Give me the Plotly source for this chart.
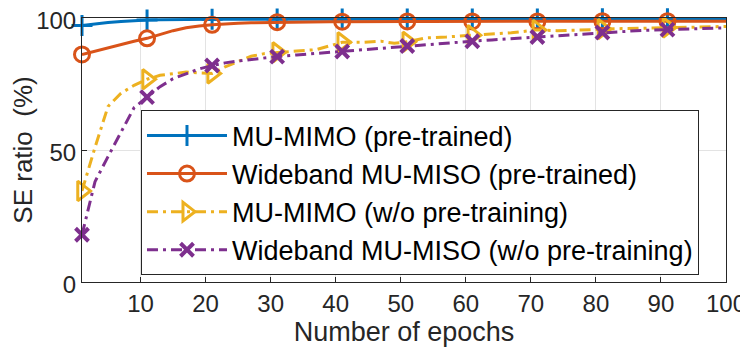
import plotly.graph_objects as go

# Values (SE ratio in %)
epochs = [1, 3, 5, 7, 9, 11, 13, 15, 17, 19, 21, 23, 25, 27, 29, 31, 34, 37, 39, 41,
          44, 47, 49, 51, 54, 57, 61, 64, 67, 71, 74, 77, 81, 84, 87, 91, 94, 97, 100]
marker_epochs = [1, 11, 21, 31, 41, 51, 61, 71, 81, 91]

mimo_pre = [97.2, 97.8, 98.3, 98.7, 99.0, 99.2, 99.3, 99.4, 99.5, 99.5, 99.5, 99.5, 99.5,
            99.5, 99.5, 99.6, 99.6, 99.6, 99.6, 99.6, 99.6, 99.6, 99.6, 99.6, 99.6, 99.6,
            99.6, 99.6, 99.6, 99.6, 99.6, 99.7, 99.7, 99.7, 99.7, 99.7, 99.7, 99.7, 99.7]
miso_pre = [86.2, 87.5, 88.8, 90.0, 91.2, 92.3, 93.8, 95.2, 96.3, 97.0, 97.4, 97.8, 98.0,
            98.2, 98.3, 98.4, 98.5, 98.6, 98.6, 98.6, 98.7, 98.7, 98.7, 98.7, 98.7, 98.7,
            98.7, 98.7, 98.7, 98.7, 98.8, 98.8, 98.8, 98.8, 98.8, 98.8, 98.8, 98.8, 98.8]
mimo_scratch = [34.5, 51.0, 66.5, 71.5, 74.5, 76.8, 78.3, 79.0, 79.5, 79.2, 79.0, 81.5, 83.5,
                85.5, 86.5, 87.0, 87.5, 88.0, 89.5, 90.8, 90.8, 91.2, 90.4, 91.0, 92.5, 92.8,
                93.5, 94.0, 94.4, 95.5, 95.2, 95.4, 95.8, 96.0, 96.1, 96.4, 96.5, 96.6, 96.8]
miso_scratch = [17.9, 38.0, 47.5, 57.0, 66.0, 70.0, 74.0, 77.0, 79.0, 80.7, 82.0, 83.0, 83.7,
                84.3, 84.9, 85.4, 86.0, 86.6, 87.0, 87.3, 88.0, 88.6, 89.0, 89.4, 90.0, 90.6,
                91.2, 91.7, 92.2, 92.8, 93.3, 93.9, 94.5, 94.9, 95.3, 95.6, 95.9, 96.1, 96.3]

x_ticks = [10, 20, 30, 40, 50, 60, 70, 80, 90, 100]
y_ticks = [0, 50, 100]

series = [
    ("MU-MIMO (pre-trained)", mimo_pre, "#0072BD", "solid", "cross-thin-open", 15, 3),
    ("Wideband MU-MISO (pre-trained)", miso_pre, "#D95319", "solid", "circle-open", 15, 3),
    ("MU-MIMO (w/o pre-training)", mimo_scratch, "#EDB120", "11px,5px,3px,5px",
     "triangle-right-open", 17, 3),
    ("Wideband MU-MISO (w/o pre-training)", miso_scratch, "#7E2F8E", "11px,5px,3px,5px",
     "x-thin-open", 13, 4),
]

FONT = "Liberation Sans, Arial, Helvetica, sans-serif"

fig = go.Figure()
for i, (name, vals, color, dash, symbol, msize, mwidth) in enumerate(series):
    line = dict(color=color, width=3, dash=dash)
    marker = dict(symbol=symbol, size=msize, color=color, line=dict(color=color, width=mwidth))
    mx = [e for e in epochs if e in marker_epochs]
    my = [v for e, v in zip(epochs, vals) if e in marker_epochs]
    # curve
    fig.add_trace(go.Scatter(x=epochs, y=vals, mode="lines", line=line,
                             showlegend=False, hoverinfo="skip", legendgroup=f"g{i}"))
    # markers every 10 epochs
    fig.add_trace(go.Scatter(x=mx, y=my, mode="markers", marker=marker, cliponaxis=False,
                             showlegend=False, name=name, legendgroup=f"g{i}"))
    # legend proxy
    fig.add_trace(go.Scatter(x=[None], y=[None], mode="lines+markers", line=line,
                             marker=marker, name=name, legendgroup=f"g{i}"))

axis_common = dict(
    showline=True, linecolor="#262626", linewidth=1, mirror=True,
    showgrid=True, gridcolor="#e3e3e3", gridwidth=1, zeroline=False,
    ticks="inside", ticklen=5, tickcolor="#262626",
    tickfont=dict(family=FONT, size=24, color="#262626"),
    ticklabeloverflow="allow", automargin=False,
)

# page body adds an 8px margin all round, so the figure is 16px smaller than the window
fig.update_layout(
    width=740, height=339,
    margin=dict(l=74, r=22, t=10, b=65),
    paper_bgcolor="white", plot_bgcolor="white",
    font=dict(family=FONT, color="#262626"),
    xaxis=dict(range=[1, 100], tickvals=x_ticks,
               title=dict(text="Number of epochs", font=dict(family=FONT, size=27), standoff=9),
               **axis_common),
    yaxis=dict(range=[0, 100], tickvals=y_ticks, ticklabelshift=3,
               title=dict(text="SE ratio&nbsp; (%)", font=dict(family=FONT, size=26), standoff=6),
               **axis_common),
    legend=dict(x=0.0916, y=0.65, xanchor="left", yanchor="top",
                bgcolor="white", bordercolor="#262626", borderwidth=1,
                font=dict(family=FONT, size=27, color="black"),
                itemwidth=80, tracegroupgap=0),
    showlegend=True,
)

fig.write_html("out.html")
